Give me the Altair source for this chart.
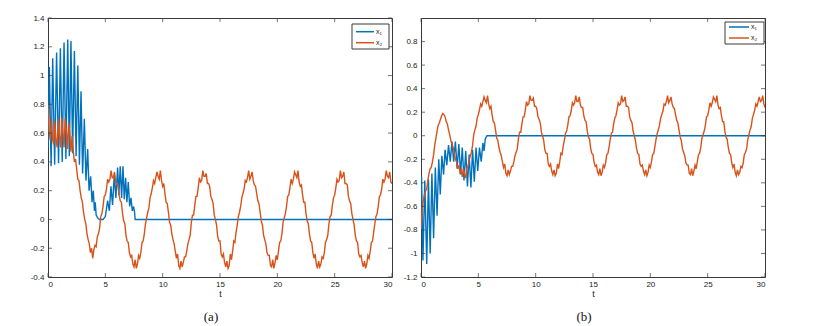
import altair as alt
import pandas as pd

BLUE = "#0072BD"
ORANGE = "#D95319"
AXC = "#3a3a3a"
W, H = 344, 259

x_ticks = [0, 5, 10, 15, 20, 25, 30]
a_y_ticks = [-0.4, -0.2, 0, 0.2, 0.4, 0.6, 0.8, 1.0, 1.2, 1.4]
b_y_ticks = [-1.2, -1.0, -0.8, -0.6, -0.4, -0.2, 0, 0.2, 0.4, 0.6, 0.8]
series_names = ["x₁", "x₂"]
captions = ["(a)", "(b)"]

# sampling interval of the x2 series (t = 0, 0.1, 0.2, ... 30)
X2_STEP = 0.1

# ---------------- panel (a) ----------------
a_x1_t = [0.00, 0.12, 0.27, 0.41, 0.58, 0.75, 0.92, 1.08, 1.24, 1.40, 1.56, 1.72, 1.86, 2.00,
          2.15, 2.30, 2.45, 2.60, 2.74, 2.88, 3.02, 3.17, 3.31, 3.46, 3.58, 3.72, 3.84, 3.95,
          4.05, 4.12, 4.20, 4.35, 4.50, 4.80, 5.00, 5.20, 5.35, 5.49, 5.63, 5.78, 5.92, 6.07,
          6.18, 6.30, 6.42, 6.54, 6.65, 6.77, 6.88, 7.00, 7.12, 7.24, 7.35, 7.47, 7.55, 7.60, 30.0]
a_x1_v = [0.50, 1.06, 0.37, 1.12, 0.38, 1.16, 0.39, 1.19, 0.40, 1.23, 0.42, 1.25, 0.44, 1.24,
          0.46, 1.17, 0.44, 1.07, 0.38, 0.89, 0.32, 0.70, 0.27, 0.49, 0.20, 0.30, 0.12, 0.20,
          0.06, 0.12, 0.03, 0.01, 0.00, 0.00, 0.02, 0.13, 0.06, 0.23, 0.10, 0.31, 0.15, 0.36,
          0.17, 0.37, 0.15, 0.37, 0.14, 0.29, 0.12, 0.26, 0.09, 0.15, 0.06, 0.09, 0.05, 0.00, 0.00]

a_x2_v = [
    0.80, 0.62, 0.55, 0.70, 0.56, 0.52, 0.68, 0.55, 0.50, 0.70,
    0.58, 0.50, 0.71, 0.60, 0.50, 0.70, 0.62, 0.49, 0.67, 0.60,
    0.47, 0.58, 0.48, 0.40, 0.42, 0.35, 0.28, 0.27, 0.20, 0.15,
    0.12, 0.05, 0.00, -0.03, -0.10, -0.14, -0.17, -0.23, -0.20, -0.27,
    -0.21, -0.18, -0.19, -0.12, -0.10, -0.06,
    0.02, 0.04, 0.09, 0.16, 0.17, 0.21, 0.28, 0.26, 0.28, 0.34,
    0.29, 0.29, 0.33, 0.26, 0.24, 0.24, 0.17, 0.13, 0.12, 0.04,
    -0.01, -0.03, -0.11, -0.15, -0.16, -0.23, -0.26, -0.25, -0.31, -0.33,
    -0.28, -0.34, -0.31, -0.25, -0.27, -0.23, -0.16, -0.15, -0.10, -0.03,
    0.01, 0.05, 0.08, 0.15, 0.18, 0.22, 0.27, 0.25, 0.29, 0.33,
    0.30, 0.28, 0.34, 0.27, 0.23, 0.25, 0.18, 0.12, 0.11, 0.05,
    -0.02, -0.04, -0.10, -0.14, -0.17, -0.22, -0.27, -0.24, -0.32, -0.34,
    -0.29, -0.33, -0.30, -0.26, -0.26, -0.22, -0.17, -0.14, -0.11, -0.02,
    0.03, 0.03, 0.10, 0.16, 0.16, 0.22, 0.29, 0.26, 0.27, 0.34,
    0.30, 0.30, 0.32, 0.25, 0.25, 0.23, 0.16, 0.14, 0.11, 0.03,
    0.00, -0.04, -0.12, -0.15, -0.15, -0.24, -0.26, -0.24, -0.30, -0.33,
    -0.29, -0.34, -0.32, -0.24, -0.28, -0.22, -0.15, -0.16, -0.09, -0.04,
    0.02, 0.05, 0.09, 0.15, 0.18, 0.21, 0.27, 0.26, 0.29, 0.34,
    0.28, 0.30, 0.33, 0.27, 0.24, 0.23, 0.18, 0.13, 0.11, 0.05,
    -0.01, -0.04, -0.11, -0.14, -0.17, -0.23, -0.25, -0.25, -0.32, -0.33,
    -0.28, -0.34, -0.30, -0.25, -0.28, -0.22, -0.16, -0.15, -0.10, -0.02,
    0.01, 0.04, 0.09, 0.16, 0.17, 0.22, 0.28, 0.25, 0.28, 0.33,
    0.31, 0.29, 0.34, 0.26, 0.23, 0.24, 0.17, 0.12, 0.12, 0.04,
    -0.01, -0.03, -0.10, -0.15, -0.16, -0.23, -0.27, -0.24, -0.31, -0.34,
    -0.29, -0.33, -0.31, -0.26, -0.27, -0.23, -0.16, -0.14, -0.11, -0.03,
    0.02, 0.03, 0.10, 0.15, 0.17, 0.22, 0.28, 0.26, 0.27, 0.34,
    0.29, 0.30, 0.33, 0.25, 0.25, 0.24, 0.16, 0.13, 0.11, 0.04,
    0.00, -0.04, -0.11, -0.15, -0.16, -0.24, -0.26, -0.25, -0.30, -0.33,
    -0.29, -0.34, -0.31, -0.25, -0.27, -0.22, -0.16, -0.15, -0.09, -0.03,
    0.02, 0.04, 0.09, 0.16, 0.17, 0.21, 0.28, 0.26, 0.28, 0.34,
    0.30, 0.29, 0.33, 0.26, 0.25,
]

# ---------------- panel (b) ----------------
b_x1_t = [0.00, 0.05, 0.17, 0.33, 0.50, 0.65, 0.80, 0.95, 1.10, 1.25, 1.40, 1.55, 1.68, 1.82,
          1.97, 2.10, 2.25, 2.40, 2.55, 2.70, 2.85, 3.00, 3.15, 3.30, 3.45, 3.60, 3.75, 3.90,
          4.05, 4.20, 4.35, 4.50, 4.65, 4.80, 4.95, 5.10, 5.25, 5.40, 5.50, 5.60, 5.75, 30.0]
b_x1_v = [-0.50, -0.35, -1.06, -0.38, -1.09, -0.37, -1.00, -0.32, -0.87, -0.27, -0.68, -0.20,
          -0.50, -0.17, -0.33, -0.12, -0.25, -0.08, -0.22, -0.05, -0.22, -0.05, -0.28, -0.07,
          -0.33, -0.10, -0.38, -0.13, -0.43, -0.16, -0.44, -0.12, -0.39, -0.10, -0.30, -0.10,
          -0.22, -0.06, -0.13, -0.03, 0.00, 0.00]

b_x2_v = [
    -0.80, -0.62, -0.55, -0.50, -0.47, -0.45, -0.38, -0.32, -0.28, -0.27,
    -0.22, -0.16, -0.08, -0.02, 0.04, 0.09, 0.11, 0.14, 0.17, 0.19,
    0.18, 0.16, 0.12, 0.10, 0.05, 0.01, -0.04, -0.07, -0.10, -0.15,
    -0.20, -0.22, -0.28, -0.25, -0.31, -0.29, -0.35, -0.28, -0.33, -0.36,
    -0.27, -0.26, -0.21, -0.17, -0.14, -0.08,
    0.01, 0.05, 0.08, 0.15, 0.18, 0.22, 0.27, 0.25, 0.29, 0.33,
    0.30, 0.28, 0.34, 0.27, 0.23, 0.25, 0.18, 0.12, 0.11, 0.05,
    -0.02, -0.04, -0.10, -0.14, -0.17, -0.22, -0.27, -0.24, -0.32, -0.34,
    -0.29, -0.33, -0.30, -0.26, -0.26, -0.22, -0.17, -0.14, -0.11, -0.02,
    0.03, 0.03, 0.10, 0.16, 0.16, 0.22, 0.29, 0.26, 0.27, 0.34,
    0.30, 0.30, 0.32, 0.25, 0.25, 0.23, 0.16, 0.14, 0.11, 0.03,
    0.00, -0.04, -0.12, -0.15, -0.15, -0.24, -0.26, -0.24, -0.30, -0.33,
    -0.29, -0.34, -0.32, -0.24, -0.28, -0.22, -0.15, -0.16, -0.09, -0.04,
    0.02, 0.04, 0.09, 0.16, 0.17, 0.21, 0.28, 0.26, 0.28, 0.34,
    0.29, 0.29, 0.33, 0.26, 0.24, 0.24, 0.17, 0.13, 0.12, 0.04,
    -0.01, -0.03, -0.11, -0.15, -0.16, -0.23, -0.26, -0.25, -0.31, -0.33,
    -0.28, -0.34, -0.31, -0.25, -0.27, -0.23, -0.16, -0.15, -0.10, -0.03,
    0.02, 0.03, 0.10, 0.15, 0.17, 0.22, 0.28, 0.26, 0.27, 0.34,
    0.29, 0.30, 0.33, 0.25, 0.25, 0.24, 0.16, 0.13, 0.11, 0.04,
    0.00, -0.04, -0.11, -0.15, -0.16, -0.24, -0.26, -0.25, -0.30, -0.33,
    -0.29, -0.34, -0.31, -0.25, -0.27, -0.22, -0.16, -0.15, -0.09, -0.03,
    0.02, 0.05, 0.09, 0.15, 0.18, 0.21, 0.27, 0.26, 0.29, 0.34,
    0.28, 0.30, 0.33, 0.27, 0.24, 0.23, 0.18, 0.13, 0.11, 0.05,
    -0.01, -0.04, -0.11, -0.14, -0.17, -0.23, -0.25, -0.25, -0.32, -0.33,
    -0.28, -0.34, -0.30, -0.25, -0.28, -0.22, -0.16, -0.15, -0.10, -0.02,
    0.01, 0.04, 0.09, 0.16, 0.17, 0.22, 0.28, 0.25, 0.28, 0.33,
    0.31, 0.29, 0.34, 0.26, 0.23, 0.24, 0.17, 0.12, 0.12, 0.04,
    -0.01, -0.03, -0.10, -0.15, -0.16, -0.23, -0.27, -0.24, -0.31, -0.34,
    -0.29, -0.33, -0.31, -0.26, -0.27, -0.23, -0.16, -0.14, -0.11, -0.03,
    0.01, 0.05, 0.08, 0.15, 0.18, 0.22, 0.27, 0.25, 0.29, 0.33,
    0.29, 0.30, 0.34, 0.27, 0.24,
]


def legend_layers(box, rows, line_x, label_x):
    one = pd.DataFrame({"k": [0]})
    layers = [
        alt.Chart(one).mark_rect(fill="white", stroke=AXC, strokeWidth=1).encode(
            x=alt.value(box[0]), x2=alt.value(box[1]), y=alt.value(box[2]), y2=alt.value(box[3]))
    ]
    for name, col, yy in zip(series_names, [BLUE, ORANGE], rows):
        layers.append(alt.Chart(one).mark_rule(color=col, strokeWidth=1.5).encode(
            x=alt.value(line_x[0]), x2=alt.value(line_x[1]), y=alt.value(yy)))
        layers.append(alt.Chart(one).mark_text(
            text=name, align="left", baseline="middle", fontSize=7,
            font="Liberation Sans", color="#222").encode(x=alt.value(label_x), y=alt.value(yy)))
    return layers


def panel(x1_t, x1_v, x2_v, ydom, yticks, caption, yext, leg):
    x2_t = [round(i * X2_STEP, 1) for i in range(len(x2_v))]
    df = pd.DataFrame({
        "t": list(x1_t) + x2_t,
        "v": list(x1_v) + list(x2_v),
        "s": [series_names[0]] * len(x1_t) + [series_names[1]] * len(x2_t),
    })
    xscale = alt.Scale(domain=[0, 30], nice=False, zero=False)
    yscale = alt.Scale(domain=ydom, nice=False, zero=False)
    xax = alt.Axis(values=x_ticks, title="t", ticks=False, domain=False, grid=False,
                   labelPadding=3, titlePadding=1)
    yax = alt.Axis(values=yticks, title=None, ticks=False, domain=False, grid=False,
                   labelPadding=4, labelExpr="'' + round(datum.value*10)/10",
                   minExtent=yext, maxExtent=yext)
    X = alt.X("t:Q", scale=xscale, axis=xax)
    Y = alt.Y("v:Q", scale=yscale, axis=yax)
    lines = alt.Chart(df).mark_line(strokeWidth=1.4, clip=True).encode(
        x=X, y=Y,
        color=alt.Color("s:N", scale=alt.Scale(domain=series_names, range=[BLUE, ORANGE]),
                        legend=None),
        detail="s:N",
    )
    xt = pd.DataFrame({"t": x_ticks})
    yt = pd.DataFrame({"v": yticks})
    tk = dict(size=4, thickness=1, color=AXC)
    tb = alt.Chart(xt).mark_tick(**tk).encode(x=X, y=alt.value(H - 2))
    tt = alt.Chart(xt).mark_tick(**tk).encode(x=X, y=alt.value(2))
    tl = alt.Chart(yt).mark_tick(**tk).encode(y=Y, x=alt.value(2))
    tr = alt.Chart(yt).mark_tick(**tk).encode(y=Y, x=alt.value(W - 2))
    return alt.layer(lines, tb, tt, tl, tr, *legend_layers(*leg)).properties(
        width=W, height=H,
        title=alt.TitleParams(caption, orient="bottom", font="Liberation Serif", fontSize=13,
                              fontWeight="normal", offset=13, dx=-9, color="#111"),
    )


pa = panel(a_x1_t, a_x1_v, a_x2_v, [-0.4, 1.4], a_y_ticks, captions[0], 39,
           ((304, 341, 6, 31), (13.7, 24.7), (308, 326), 328))
pb = panel(b_x1_t, b_x1_v, b_x2_v, [-1.2, 1.0], b_y_ticks, captions[1], 17,
           ((304, 343, 4, 26), (9, 20), (308, 328), 330))

chart = (
    alt.hconcat(pa, pb, spacing=9)
    .resolve_scale(color="independent", x="independent", y="independent")
    .properties(padding={"left": 0, "top": 5, "right": 5, "bottom": 0}, background="white")
    .configure_view(stroke=AXC, strokeWidth=1)
    .configure_axis(labelFont="Liberation Sans", labelFontSize=8, labelColor="#222",
                    titleFont="Liberation Sans", titleFontSize=9, titleFontWeight="normal",
                    titleColor="#222")
)

chart.save("out.html", embed_options={"renderer": "svg", "actions": False})
